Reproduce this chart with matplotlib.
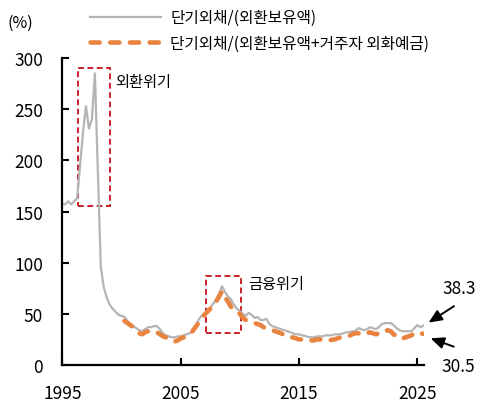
import numpy as np
import matplotlib
matplotlib.use('Agg')
import matplotlib.pyplot as plt
from matplotlib.patches import Rectangle

plt.rcParams['font.family'] = ['Noto Sans CJK KR', 'DejaVu Sans']

# quarterly series (%)
quarters_gray = np.arange(1995, 2025.51, 0.25)
gray_vals = [
    157, 157, 160, 157,   # 1995
    160, 163, 195, 228,   # 1996
    253, 231, 240, 285,   # 1997
    190, 96, 76, 66,      # 1998
    59, 55, 52, 49,       # 1999
    48, 47, 43, 40,       # 2000
    38, 36, 34, 33,       # 2001
    35, 37, 37, 38,       # 2002
    38, 35, 31, 29,       # 2003
    28, 27, 27, 28,       # 2004
    28, 29, 30, 31,       # 2005
    33, 38, 44, 48,       # 2006
    50, 53, 56, 60,       # 2007
    64, 70, 77, 71,       # 2008
    67, 64, 59, 55,       # 2009
    53, 50, 48, 51,       # 2010
    49, 46, 47, 44,       # 2011
    44, 45, 40, 38,       # 2012
    37, 36, 35, 34,       # 2013
    33, 32, 31, 30,       # 2014
    30, 29, 28.5, 27.5,   # 2015
    27, 27, 28, 28,       # 2016
    28, 29, 29, 29,       # 2017
    30, 30, 30, 31,       # 2018
    32, 32, 33, 33,       # 2019
    36, 35, 34, 35,       # 2020
    37, 36, 35, 37,       # 2021
    40, 41, 41, 41,       # 2022
    39, 36, 34, 33,       # 2023
    33, 33, 33, 36,       # 2024
    39, 37, 38.3,         # 2025
]

quarters_orange = np.arange(2000.25, 2025.51, 0.25)
orange_vals = [
    43, 41, 39,           # 2000
    37, 34, 31, 30,       # 2001
    32, 33, 33, 32,       # 2002
    32, 30, 28, 27,       # 2003
    25, 24, 23, 24,       # 2004
    26, 27, 29, 31,       # 2005
    33, 37, 41, 45,       # 2006
    49, 52, 55, 59,       # 2007
    62, 67, 72, 66,       # 2008
    62, 57, 54, 52,       # 2009
    50, 46, 44, 43,       # 2010
    42, 41, 40, 39,       # 2011
    37, 36, 35, 34,       # 2012
    33, 32, 31, 29,       # 2013
    28, 27, 27, 26,       # 2014
    25, 25, 25, 24,       # 2015
    24, 24, 25, 25,       # 2016
    24.5, 24, 24, 24.5,   # 2017
    25, 26, 27, 27,       # 2018
    28, 28.5, 30, 31,     # 2019
    31, 30, 30, 31,       # 2020
    32, 31, 30, 31,       # 2021
    33, 33, 34, 33,       # 2022
    30, 28, 26, 26,       # 2023
    27, 28, 29, 31,       # 2024
    32, 31, 30.5,         # 2025
]

label_gray = '단기외채/(외환보유액)'
label_orange = '단기외채/(외환보유액+거주자 외화예금)'
x_ticks = [1995, 2005, 2015, 2025]
y_ticks = [0, 50, 100, 150, 200, 250, 300]

fig = plt.figure(figsize=(4.87, 4.06), dpi=100)
ax = fig.add_axes([0.128, 0.0985, 0.7423, 0.7562])

ax.plot(quarters_gray, gray_vals, color='#b4b4b4', lw=1.6, label=label_gray)
ax.plot(quarters_orange, orange_vals, color='#e8843f', lw=3.3,
        linestyle=(0, (2.0, 2.3)), dash_capstyle='round', label=label_orange)

# crisis boxes
red = '#c8202a'
ax.add_patch(Rectangle((1996.35, 155), 2.65, 135, fill=False, ec=red,
                       lw=1.4, linestyle=(0, (3, 1.8))))
ax.add_patch(Rectangle((2007.1, 31), 3.0, 56, fill=False, ec=red,
                       lw=1.4, linestyle=(0, (3, 1.8))))
ax.text(1999.5, 277, '외환위기', fontsize=11, va='center', ha='left')
ax.text(2010.7, 80, '금융위기', fontsize=11, va='center', ha='left')

# end value arrows
ap = dict(arrowstyle='-|>,head_length=0.8,head_width=0.35', color='black', lw=1.4)
ax.annotate('', xy=(2025.75, 40), xytext=(2028.3, 59), arrowprops=ap,
            annotation_clip=False)
ax.annotate('', xy=(2025.9, 27), xytext=(2028.3, 17), arrowprops=ap,
            annotation_clip=False)
ax.text(2028.5, 75, '38.3', fontsize=12.5, ha='center', va='center', clip_on=False)
ax.text(2028.5, -0.7, '30.5', fontsize=12.5, ha='center', va='center', clip_on=False)

ax.set_xlim(1995, 2025.55)
ax.set_ylim(0, 300)
ax.set_xticks(x_ticks)
ax.set_yticks(y_ticks)
ax.tick_params(axis='both', direction='in', length=5, width=1.5,
               labelsize=12.5, pad=14)
for s in ['top', 'right']:
    ax.spines[s].set_visible(False)
for s in ['left', 'bottom']:
    ax.spines[s].set_linewidth(1.6)

fig.text(20 / 487, 1 - 23 / 406, '(%)', fontsize=11.5, ha='center', va='center')

fig.legend(loc='upper left', bbox_to_anchor=(84 / 487, 1 - 4 / 406),
           frameon=False, fontsize=11.3, handlelength=4.5, handletextpad=0.6,
           labelspacing=0.55, borderaxespad=0)

fig.savefig('out.png', dpi=100)
